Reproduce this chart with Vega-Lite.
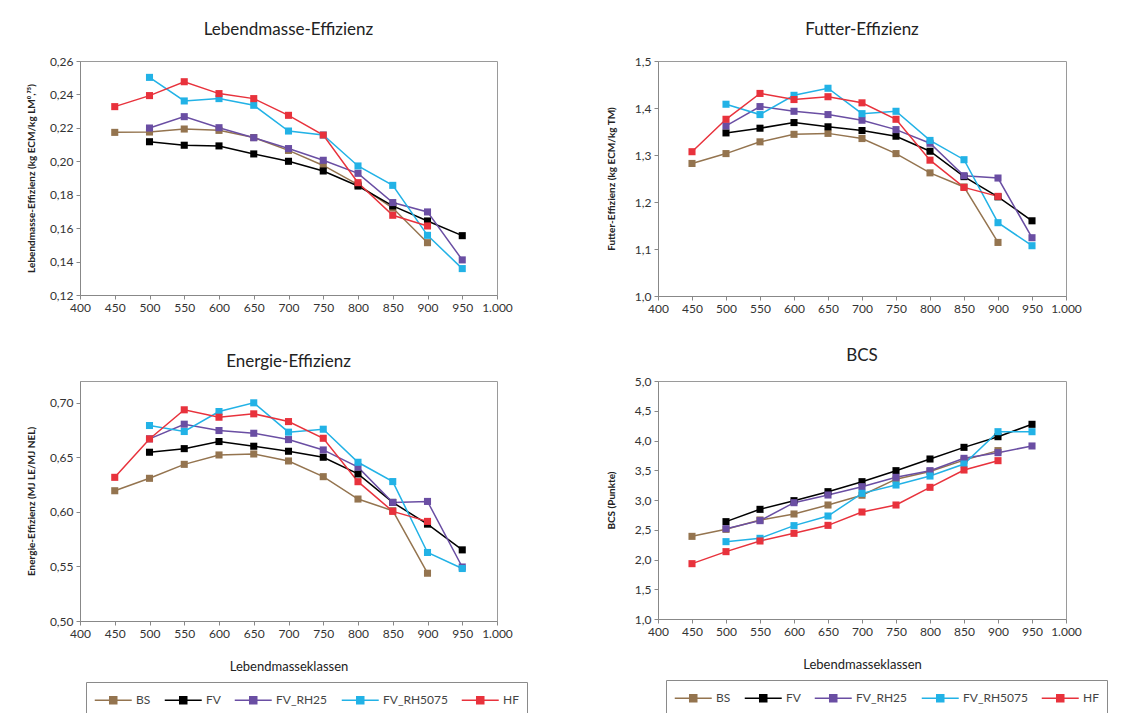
{
  "$schema": "https://vega.github.io/schema/vega-lite/v6.json",
  "padding": {"left": 25, "top": 20, "right": 10, "bottom": 5},
  "background": "white",
  "config": {
    "locale": {"number": {"decimal": ",", "thousands": ".", "grouping": [3], "currency": ["", " €"]}},
    "font": "Lato",
    "view": {"stroke": "#9a9a9a", "strokeWidth": 1},
    "axis": {"grid": false, "labelFontSize": 12, "labelColor": "#333", "tickColor": "#888", "domainColor": "#888", "tickSize": 4, "labelPadding": 3, "titleFontSize": 10, "titleColor": "#222", "titleFontWeight": "bold", "labelOverlap": false, "labelFlush": false},
    "title": {"fontSize": 17, "fontWeight": "normal", "color": "#222", "offset": 16},
    "legend": {"labelFontSize": 12, "labelColor": "#444"}
  },
  "data": {"values": [
    {"p": "LM", "g": "BS", "x": 450, "y": 0.2173}, {"p": "LM", "g": "BS", "x": 500, "y": 0.2175}, {"p": "LM", "g": "BS", "x": 550, "y": 0.2193}, {"p": "LM", "g": "BS", "x": 600, "y": 0.2185}, {"p": "LM", "g": "BS", "x": 650, "y": 0.2142}, {"p": "LM", "g": "BS", "x": 700, "y": 0.2065}, {"p": "LM", "g": "BS", "x": 750, "y": 0.1975}, {"p": "LM", "g": "BS", "x": 800, "y": 0.186}, {"p": "LM", "g": "BS", "x": 850, "y": 0.172}, {"p": "LM", "g": "BS", "x": 900, "y": 0.1513},
    {"p": "LM", "g": "FV", "x": 500, "y": 0.2117}, {"p": "LM", "g": "FV", "x": 550, "y": 0.2096}, {"p": "LM", "g": "FV", "x": 600, "y": 0.2092}, {"p": "LM", "g": "FV", "x": 650, "y": 0.2044}, {"p": "LM", "g": "FV", "x": 700, "y": 0.2}, {"p": "LM", "g": "FV", "x": 750, "y": 0.1942}, {"p": "LM", "g": "FV", "x": 800, "y": 0.1852}, {"p": "LM", "g": "FV", "x": 850, "y": 0.1733}, {"p": "LM", "g": "FV", "x": 900, "y": 0.1643}, {"p": "LM", "g": "FV", "x": 950, "y": 0.1555},
    {"p": "LM", "g": "FV_RH25", "x": 500, "y": 0.2199}, {"p": "LM", "g": "FV_RH25", "x": 550, "y": 0.2267}, {"p": "LM", "g": "FV_RH25", "x": 600, "y": 0.2201}, {"p": "LM", "g": "FV_RH25", "x": 650, "y": 0.2141}, {"p": "LM", "g": "FV_RH25", "x": 700, "y": 0.2076}, {"p": "LM", "g": "FV_RH25", "x": 750, "y": 0.2006}, {"p": "LM", "g": "FV_RH25", "x": 800, "y": 0.1928}, {"p": "LM", "g": "FV_RH25", "x": 850, "y": 0.1753}, {"p": "LM", "g": "FV_RH25", "x": 900, "y": 0.1697}, {"p": "LM", "g": "FV_RH25", "x": 950, "y": 0.141},
    {"p": "LM", "g": "FV_RH5075", "x": 500, "y": 0.2502}, {"p": "LM", "g": "FV_RH5075", "x": 550, "y": 0.2361}, {"p": "LM", "g": "FV_RH5075", "x": 600, "y": 0.2375}, {"p": "LM", "g": "FV_RH5075", "x": 650, "y": 0.2335}, {"p": "LM", "g": "FV_RH5075", "x": 700, "y": 0.2181}, {"p": "LM", "g": "FV_RH5075", "x": 750, "y": 0.2157}, {"p": "LM", "g": "FV_RH5075", "x": 800, "y": 0.1972}, {"p": "LM", "g": "FV_RH5075", "x": 850, "y": 0.1856}, {"p": "LM", "g": "FV_RH5075", "x": 900, "y": 0.1557}, {"p": "LM", "g": "FV_RH5075", "x": 950, "y": 0.1358},
    {"p": "LM", "g": "HF", "x": 450, "y": 0.2327}, {"p": "LM", "g": "HF", "x": 500, "y": 0.2393}, {"p": "LM", "g": "HF", "x": 550, "y": 0.2476}, {"p": "LM", "g": "HF", "x": 600, "y": 0.2405}, {"p": "LM", "g": "HF", "x": 650, "y": 0.2375}, {"p": "LM", "g": "HF", "x": 700, "y": 0.2275}, {"p": "LM", "g": "HF", "x": 750, "y": 0.2157}, {"p": "LM", "g": "HF", "x": 800, "y": 0.1872}, {"p": "LM", "g": "HF", "x": 850, "y": 0.1677}, {"p": "LM", "g": "HF", "x": 900, "y": 0.1613},

    {"p": "FE", "g": "BS", "x": 450, "y": 1.282}, {"p": "FE", "g": "BS", "x": 500, "y": 1.303}, {"p": "FE", "g": "BS", "x": 550, "y": 1.328}, {"p": "FE", "g": "BS", "x": 600, "y": 1.344}, {"p": "FE", "g": "BS", "x": 650, "y": 1.346}, {"p": "FE", "g": "BS", "x": 700, "y": 1.335}, {"p": "FE", "g": "BS", "x": 750, "y": 1.303}, {"p": "FE", "g": "BS", "x": 800, "y": 1.262}, {"p": "FE", "g": "BS", "x": 850, "y": 1.232}, {"p": "FE", "g": "BS", "x": 900, "y": 1.114},
    {"p": "FE", "g": "FV", "x": 500, "y": 1.347}, {"p": "FE", "g": "FV", "x": 550, "y": 1.357}, {"p": "FE", "g": "FV", "x": 600, "y": 1.369}, {"p": "FE", "g": "FV", "x": 650, "y": 1.36}, {"p": "FE", "g": "FV", "x": 700, "y": 1.352}, {"p": "FE", "g": "FV", "x": 750, "y": 1.34}, {"p": "FE", "g": "FV", "x": 800, "y": 1.308}, {"p": "FE", "g": "FV", "x": 850, "y": 1.254}, {"p": "FE", "g": "FV", "x": 900, "y": 1.211}, {"p": "FE", "g": "FV", "x": 950, "y": 1.16},
    {"p": "FE", "g": "FV_RH25", "x": 500, "y": 1.362}, {"p": "FE", "g": "FV_RH25", "x": 550, "y": 1.403}, {"p": "FE", "g": "FV_RH25", "x": 600, "y": 1.393}, {"p": "FE", "g": "FV_RH25", "x": 650, "y": 1.386}, {"p": "FE", "g": "FV_RH25", "x": 700, "y": 1.374}, {"p": "FE", "g": "FV_RH25", "x": 750, "y": 1.354}, {"p": "FE", "g": "FV_RH25", "x": 800, "y": 1.325}, {"p": "FE", "g": "FV_RH25", "x": 850, "y": 1.256}, {"p": "FE", "g": "FV_RH25", "x": 900, "y": 1.251}, {"p": "FE", "g": "FV_RH25", "x": 950, "y": 1.124},
    {"p": "FE", "g": "FV_RH5075", "x": 500, "y": 1.408}, {"p": "FE", "g": "FV_RH5075", "x": 550, "y": 1.386}, {"p": "FE", "g": "FV_RH5075", "x": 600, "y": 1.427}, {"p": "FE", "g": "FV_RH5075", "x": 650, "y": 1.442}, {"p": "FE", "g": "FV_RH5075", "x": 700, "y": 1.388}, {"p": "FE", "g": "FV_RH5075", "x": 750, "y": 1.393}, {"p": "FE", "g": "FV_RH5075", "x": 800, "y": 1.331}, {"p": "FE", "g": "FV_RH5075", "x": 850, "y": 1.29}, {"p": "FE", "g": "FV_RH5075", "x": 900, "y": 1.156}, {"p": "FE", "g": "FV_RH5075", "x": 950, "y": 1.107},
    {"p": "FE", "g": "HF", "x": 450, "y": 1.307}, {"p": "FE", "g": "HF", "x": 500, "y": 1.376}, {"p": "FE", "g": "HF", "x": 550, "y": 1.431}, {"p": "FE", "g": "HF", "x": 600, "y": 1.418}, {"p": "FE", "g": "HF", "x": 650, "y": 1.424}, {"p": "FE", "g": "HF", "x": 700, "y": 1.411}, {"p": "FE", "g": "HF", "x": 750, "y": 1.376}, {"p": "FE", "g": "HF", "x": 800, "y": 1.289}, {"p": "FE", "g": "HF", "x": 850, "y": 1.231}, {"p": "FE", "g": "HF", "x": 900, "y": 1.212},

    {"p": "EE", "g": "BS", "x": 450, "y": 0.6194}, {"p": "EE", "g": "BS", "x": 500, "y": 0.6308}, {"p": "EE", "g": "BS", "x": 550, "y": 0.6436}, {"p": "EE", "g": "BS", "x": 600, "y": 0.6522}, {"p": "EE", "g": "BS", "x": 650, "y": 0.6531}, {"p": "EE", "g": "BS", "x": 700, "y": 0.6467}, {"p": "EE", "g": "BS", "x": 750, "y": 0.6323}, {"p": "EE", "g": "BS", "x": 800, "y": 0.6118}, {"p": "EE", "g": "BS", "x": 850, "y": 0.6011}, {"p": "EE", "g": "BS", "x": 900, "y": 0.5438},
    {"p": "EE", "g": "FV", "x": 500, "y": 0.6547}, {"p": "EE", "g": "FV", "x": 550, "y": 0.658}, {"p": "EE", "g": "FV", "x": 600, "y": 0.6645}, {"p": "EE", "g": "FV", "x": 650, "y": 0.6602}, {"p": "EE", "g": "FV", "x": 700, "y": 0.6556}, {"p": "EE", "g": "FV", "x": 750, "y": 0.6501}, {"p": "EE", "g": "FV", "x": 800, "y": 0.6348}, {"p": "EE", "g": "FV", "x": 850, "y": 0.6087}, {"p": "EE", "g": "FV", "x": 900, "y": 0.5888}, {"p": "EE", "g": "FV", "x": 950, "y": 0.5652},
    {"p": "EE", "g": "FV_RH25", "x": 500, "y": 0.667}, {"p": "EE", "g": "FV_RH25", "x": 550, "y": 0.6804}, {"p": "EE", "g": "FV_RH25", "x": 600, "y": 0.6746}, {"p": "EE", "g": "FV_RH25", "x": 650, "y": 0.6721}, {"p": "EE", "g": "FV_RH25", "x": 700, "y": 0.6663}, {"p": "EE", "g": "FV_RH25", "x": 750, "y": 0.6568}, {"p": "EE", "g": "FV_RH25", "x": 800, "y": 0.641}, {"p": "EE", "g": "FV_RH25", "x": 850, "y": 0.6087}, {"p": "EE", "g": "FV_RH25", "x": 900, "y": 0.6096}, {"p": "EE", "g": "FV_RH25", "x": 950, "y": 0.5495},
    {"p": "EE", "g": "FV_RH5075", "x": 500, "y": 0.6792}, {"p": "EE", "g": "FV_RH5075", "x": 550, "y": 0.6737}, {"p": "EE", "g": "FV_RH5075", "x": 600, "y": 0.692}, {"p": "EE", "g": "FV_RH5075", "x": 650, "y": 0.7}, {"p": "EE", "g": "FV_RH5075", "x": 700, "y": 0.6731}, {"p": "EE", "g": "FV_RH5075", "x": 750, "y": 0.6758}, {"p": "EE", "g": "FV_RH5075", "x": 800, "y": 0.6455}, {"p": "EE", "g": "FV_RH5075", "x": 850, "y": 0.6278}, {"p": "EE", "g": "FV_RH5075", "x": 900, "y": 0.5628}, {"p": "EE", "g": "FV_RH5075", "x": 950, "y": 0.5481},
    {"p": "EE", "g": "HF", "x": 450, "y": 0.6317}, {"p": "EE", "g": "HF", "x": 500, "y": 0.6669}, {"p": "EE", "g": "HF", "x": 550, "y": 0.6936}, {"p": "EE", "g": "HF", "x": 600, "y": 0.6868}, {"p": "EE", "g": "HF", "x": 650, "y": 0.6899}, {"p": "EE", "g": "HF", "x": 700, "y": 0.6828}, {"p": "EE", "g": "HF", "x": 750, "y": 0.6675}, {"p": "EE", "g": "HF", "x": 800, "y": 0.6277}, {"p": "EE", "g": "HF", "x": 850, "y": 0.6005}, {"p": "EE", "g": "HF", "x": 900, "y": 0.5913},

    {"p": "BCS", "g": "BS", "x": 450, "y": 2.389}, {"p": "BCS", "g": "BS", "x": 500, "y": 2.507}, {"p": "BCS", "g": "BS", "x": 550, "y": 2.664}, {"p": "BCS", "g": "BS", "x": 600, "y": 2.765}, {"p": "BCS", "g": "BS", "x": 650, "y": 2.916}, {"p": "BCS", "g": "BS", "x": 700, "y": 3.08}, {"p": "BCS", "g": "BS", "x": 750, "y": 3.35}, {"p": "BCS", "g": "BS", "x": 800, "y": 3.48}, {"p": "BCS", "g": "BS", "x": 850, "y": 3.67}, {"p": "BCS", "g": "BS", "x": 900, "y": 3.83},
    {"p": "BCS", "g": "FV", "x": 500, "y": 2.636}, {"p": "BCS", "g": "FV", "x": 550, "y": 2.843}, {"p": "BCS", "g": "FV", "x": 600, "y": 2.989}, {"p": "BCS", "g": "FV", "x": 650, "y": 3.14}, {"p": "BCS", "g": "FV", "x": 700, "y": 3.308}, {"p": "BCS", "g": "FV", "x": 750, "y": 3.493}, {"p": "BCS", "g": "FV", "x": 800, "y": 3.689}, {"p": "BCS", "g": "FV", "x": 850, "y": 3.885}, {"p": "BCS", "g": "FV", "x": 900, "y": 4.064}, {"p": "BCS", "g": "FV", "x": 950, "y": 4.272},
    {"p": "BCS", "g": "FV_RH25", "x": 500, "y": 2.518}, {"p": "BCS", "g": "FV_RH25", "x": 550, "y": 2.653}, {"p": "BCS", "g": "FV_RH25", "x": 600, "y": 2.955}, {"p": "BCS", "g": "FV_RH25", "x": 650, "y": 3.084}, {"p": "BCS", "g": "FV_RH25", "x": 700, "y": 3.224}, {"p": "BCS", "g": "FV_RH25", "x": 750, "y": 3.381}, {"p": "BCS", "g": "FV_RH25", "x": 800, "y": 3.493}, {"p": "BCS", "g": "FV_RH25", "x": 850, "y": 3.7}, {"p": "BCS", "g": "FV_RH25", "x": 900, "y": 3.795}, {"p": "BCS", "g": "FV_RH25", "x": 950, "y": 3.908},
    {"p": "BCS", "g": "FV_RH5075", "x": 500, "y": 2.3}, {"p": "BCS", "g": "FV_RH5075", "x": 550, "y": 2.356}, {"p": "BCS", "g": "FV_RH5075", "x": 600, "y": 2.569}, {"p": "BCS", "g": "FV_RH5075", "x": 650, "y": 2.731}, {"p": "BCS", "g": "FV_RH5075", "x": 700, "y": 3.112}, {"p": "BCS", "g": "FV_RH5075", "x": 750, "y": 3.252}, {"p": "BCS", "g": "FV_RH5075", "x": 800, "y": 3.403}, {"p": "BCS", "g": "FV_RH5075", "x": 850, "y": 3.605}, {"p": "BCS", "g": "FV_RH5075", "x": 900, "y": 4.148}, {"p": "BCS", "g": "FV_RH5075", "x": 950, "y": 4.148},
    {"p": "BCS", "g": "HF", "x": 450, "y": 1.93}, {"p": "BCS", "g": "HF", "x": 500, "y": 2.132}, {"p": "BCS", "g": "HF", "x": 550, "y": 2.311}, {"p": "BCS", "g": "HF", "x": 600, "y": 2.44}, {"p": "BCS", "g": "HF", "x": 650, "y": 2.574}, {"p": "BCS", "g": "HF", "x": 700, "y": 2.798}, {"p": "BCS", "g": "HF", "x": 750, "y": 2.916}, {"p": "BCS", "g": "HF", "x": 800, "y": 3.213}, {"p": "BCS", "g": "HF", "x": 850, "y": 3.504}, {"p": "BCS", "g": "HF", "x": 900, "y": 3.661}
  ]},
  "resolve": {"legend": {"color": "independent"}},
  "spacing": 31,
  "vconcat": [
    {
      "hconcat": [
        {
          "width": 417, "height": 234,
          "title": {"text": "Lebendmasse-Effizienz", "offset": 16},
          "transform": [{"filter": "datum.p === 'LM'"}],
          "encoding": {
            "x": {"field": "x", "type": "quantitative", "scale": {"domain": [400, 1000]}, "axis": {"title": null, "values": [400, 450, 500, 550, 600, 650, 700, 750, 800, 850, 900, 950, 1000], "format": ",.0f"}},
            "y": {"field": "y", "type": "quantitative", "scale": {"domain": [0.12, 0.26]}, "axis": {"title": "Lebendmasse-Effizienz (kg ECM/kg LM⁰,⁷⁵)", "values": [0.12, 0.14, 0.16, 0.18, 0.2, 0.22, 0.24, 0.26], "format": ".2f", "titlePadding": 13}},
            "color": {"field": "g", "type": "nominal", "scale": {"domain": ["BS", "FV", "FV_RH25", "FV_RH5075", "HF"], "range": ["#94744f", "#000000", "#6a4ea3", "#22b2e6", "#e8323c"]}, "legend": null}
          },
          "layer": [
            {"mark": {"type": "line", "strokeWidth": 1.5}},
            {"mark": {"type": "point", "shape": "square", "filled": true, "size": 50, "opacity": 1}}
          ]
        },
        {
          "width": 408, "height": 235,
          "title": {"text": "Futter-Effizienz", "offset": 16},
          "transform": [{"filter": "datum.p === 'FE'"}],
          "encoding": {
            "x": {"field": "x", "type": "quantitative", "scale": {"domain": [400, 1000]}, "axis": {"title": null, "values": [400, 450, 500, 550, 600, 650, 700, 750, 800, 850, 900, 950, 1000], "format": ",.0f"}},
            "y": {"field": "y", "type": "quantitative", "scale": {"domain": [1.0, 1.5]}, "axis": {"title": "Futter-Effizienz (kg ECM/kg TM)", "values": [1.0, 1.1, 1.2, 1.3, 1.4, 1.5], "format": ".1f", "titlePadding": 18}},
            "color": {"field": "g", "type": "nominal", "scale": {"domain": ["BS", "FV", "FV_RH25", "FV_RH5075", "HF"], "range": ["#94744f", "#000000", "#6a4ea3", "#22b2e6", "#e8323c"]}, "legend": null}
          },
          "layer": [
            {"mark": {"type": "line", "strokeWidth": 1.5}},
            {"mark": {"type": "point", "shape": "square", "filled": true, "size": 50, "opacity": 1}}
          ]
        }
      ],
      "bounds": "flush",
      "spacing": 161,
      "resolve": {"legend": {"color": "independent"}}
    },
    {
      "hconcat": [
        {
          "width": 417, "height": 240,
          "title": {"text": "Energie-Effizienz", "offset": 10},
          "transform": [{"filter": "datum.p === 'EE'"}],
          "encoding": {
            "x": {"field": "x", "type": "quantitative", "scale": {"domain": [400, 1000]}, "axis": {"title": "Lebendmasseklassen", "titleFontWeight": "normal", "titleFontSize": 13, "titlePadding": 21, "values": [400, 450, 500, 550, 600, 650, 700, 750, 800, 850, 900, 950, 1000], "format": ",.0f"}},
            "y": {"field": "y", "type": "quantitative", "scale": {"domain": [0.5, 0.72]}, "axis": {"title": "Energie-Effizienz (MJ LE/MJ NEL)", "values": [0.5, 0.55, 0.6, 0.65, 0.7], "format": ".2f", "titlePadding": 13}},
            "color": {"field": "g", "type": "nominal", "scale": {"domain": ["BS", "FV", "FV_RH25", "FV_RH5075", "HF"], "range": ["#94744f", "#000000", "#6a4ea3", "#22b2e6", "#e8323c"]}, "legend": {"title": null, "orient": "none", "legendX": 6, "legendY": 301, "direction": "horizontal", "strokeColor": "#8a8a8a", "padding": 8, "columnPadding": 10, "symbolType": "M-1,0H3M0.62,-0.38H1.38V0.38H0.62Z", "symbolSize": 342, "symbolStrokeWidth": 1.5, "labelOffset": 22}}
          },
          "layer": [
            {"mark": {"type": "line", "strokeWidth": 1.5}},
            {"mark": {"type": "point", "shape": "square", "filled": true, "size": 50, "opacity": 1}}
          ]
        },
        {
          "width": 408, "height": 238,
          "title": {"text": "BCS", "offset": 10},
          "transform": [{"filter": "datum.p === 'BCS'"}],
          "encoding": {
            "x": {"field": "x", "type": "quantitative", "scale": {"domain": [400, 1000]}, "axis": {"title": "Lebendmasseklassen", "titleFontWeight": "normal", "titleFontSize": 13, "titlePadding": 21, "values": [400, 450, 500, 550, 600, 650, 700, 750, 800, 850, 900, 950, 1000], "format": ",.0f"}},
            "y": {"field": "y", "type": "quantitative", "scale": {"domain": [1.0, 5.0]}, "axis": {"title": "BCS (Punkte)", "values": [1.0, 1.5, 2.0, 2.5, 3.0, 3.5, 4.0, 4.5, 5.0], "format": ".1f", "titlePadding": 18}},
            "color": {"field": "g", "type": "nominal", "scale": {"domain": ["BS", "FV", "FV_RH25", "FV_RH5075", "HF"], "range": ["#94744f", "#000000", "#6a4ea3", "#22b2e6", "#e8323c"]}, "legend": {"title": null, "orient": "none", "legendX": 8, "legendY": 299, "direction": "horizontal", "strokeColor": "#8a8a8a", "padding": 8, "columnPadding": 10, "symbolType": "M-1,0H3M0.62,-0.38H1.38V0.38H0.62Z", "symbolSize": 342, "symbolStrokeWidth": 1.5, "labelOffset": 22}}
          },
          "layer": [
            {"mark": {"type": "line", "strokeWidth": 1.5}},
            {"mark": {"type": "point", "shape": "square", "filled": true, "size": 50, "opacity": 1}}
          ]
        }
      ],
      "bounds": "flush",
      "spacing": 161,
      "resolve": {"legend": {"color": "independent"}}
    }
  ]
}
